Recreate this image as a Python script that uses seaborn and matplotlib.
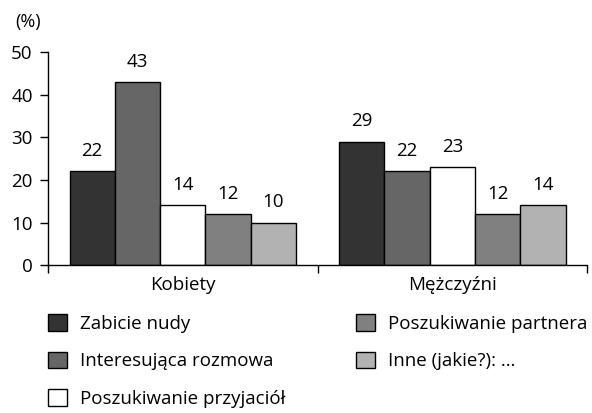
import pandas as pd
import matplotlib
matplotlib.use("Agg")
from matplotlib import pyplot as plt
from matplotlib.ticker import FixedLocator
import seaborn as sns

groups = ["Kobiety", "Mężczyźni"]
series = [
    "Zabicie nudy",
    "Interesująca rozmowa",
    "Poszukiwanie przyjaciół",
    "Poszukiwanie partnera",
    "Inne (jakie?): …",
]
kobiety = [22, 43, 14, 12, 10]
mezczyzni = [29, 22, 23, 12, 14]
colors = ["#333333", "#666666", "#ffffff", "#808080", "#b2b2b2"]

df = pd.DataFrame(
    {
        "group": [groups[0]] * len(series) + [groups[1]] * len(series),
        "series": series * 2,
        "value": kobiety + mezczyzni,
    }
)

sns.set_style("ticks")
plt.rcParams["font.family"] = ["Open Sans", "DejaVu Sans"]
plt.rcParams["text.color"] = "black"
plt.rcParams["xtick.color"] = "black"
plt.rcParams["ytick.color"] = "black"

fig = plt.figure(figsize=(5.92, 4.13), dpi=100)
ax = fig.add_axes([0.081, 0.358, 0.911, 0.516])

sns.barplot(
    data=df,
    x="group",
    y="value",
    hue="series",
    hue_order=series,
    palette=colors,
    edgecolor="black",
    linewidth=1,
    width=0.84,
    gap=0,
    ax=ax,
    legend=True,
)

for c in ax.containers:
    ax.bar_label(c, padding=8, fontsize=13.5, color="black")

ax.set_ylim(0, 50)
ax.set_yticks([0, 10, 20, 30, 40, 50])
ax.set_xlim(-0.5, 1.5)
ax.xaxis.set_minor_locator(FixedLocator([-0.5, 0.5, 1.5]))
ax.tick_params(axis="x", which="major", length=0, labelsize=13.5, pad=8)
ax.tick_params(axis="x", which="minor", length=6, width=1)
ax.tick_params(axis="y", length=6, width=1, labelsize=13.5, pad=5)
ax.set_xlabel("")
ax.set_ylabel("")
sns.despine(ax=ax)
for s in ["left", "bottom"]:
    ax.spines[s].set_color("black")
    ax.spines[s].set_linewidth(1)

fig.text(0.025, 0.935, "(%)", fontsize=13)

handles, labels = ax.get_legend_handles_labels()
ax.get_legend().remove()
fig.legend(
    handles,
    labels,
    ncol=2,
    loc="upper left",
    bbox_to_anchor=(0.068, 0.258),
    frameon=False,
    fontsize=13.5,
    handlelength=1.0,
    handleheight=1.0,
    handletextpad=0.7,
    labelspacing=1.0,
    columnspacing=3.8,
    borderaxespad=0,
)

fig.savefig("out.png", dpi=100)
